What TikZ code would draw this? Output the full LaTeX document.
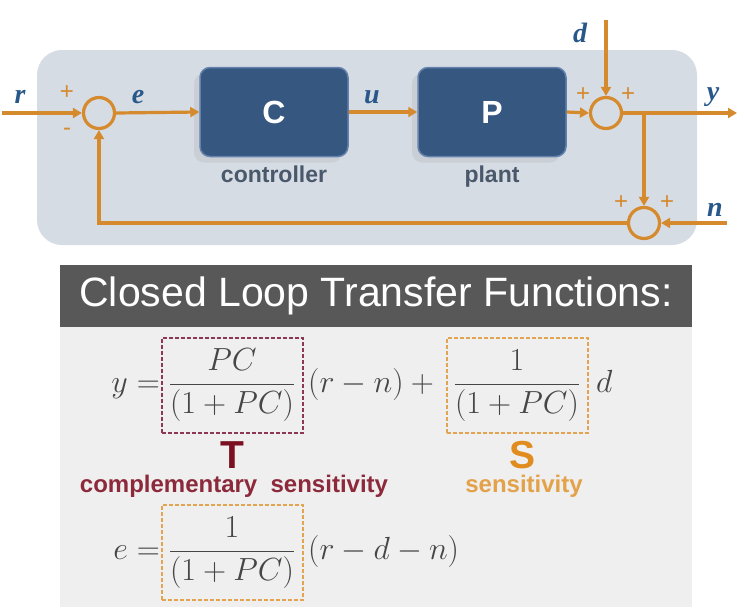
\documentclass[tikz,border=0pt]{standalone}
\usepackage{fix-cm}
\usepackage{amsmath}
\usepackage{fontspec}
\setmainfont{Liberation Sans}
\newfontfamily\lblfont{Liberation Serif}
\usepackage{tikz}
\usetikzlibrary{arrows.meta,calc,positioning,shadows}

\definecolor{panelbg}{RGB}{214,220,228}
\definecolor{blockblue}{RGB}{54,87,128}
\definecolor{blockedge}{RGB}{100,130,172}
\definecolor{sigblue}{RGB}{40,88,138}
\definecolor{wirecol}{RGB}{214,138,46}
\definecolor{captxt}{RGB}{74,88,108}
\definecolor{hdrgray}{RGB}{88,88,88}
\definecolor{lowbg}{RGB}{239,239,239}
\definecolor{mathgray}{RGB}{70,70,70}
\definecolor{tred}{RGB}{122,16,32}
\definecolor{tcap}{RGB}{140,42,60}
\definecolor{tboxcol}{RGB}{140,56,84}
\definecolor{sorange}{RGB}{224,140,30}
\definecolor{scap}{RGB}{227,162,74}
\definecolor{sboxcol}{RGB}{226,164,80}

\tikzset{
  wire/.style={line width=3.2pt,draw=wirecol},
  sumnode/.style={circle,draw=wirecol,line width=3.2pt,minimum size=31pt,inner sep=0pt},
  block/.style={rectangle,rounded corners=10pt,fill=blockblue,draw=blockedge,line width=1.5pt,
    minimum width=148pt,minimum height=89pt,text=white,font=\fontsize{32}{36}\selectfont\bfseries,
    drop shadow={shadow xshift=-6pt,shadow yshift=-6pt,opacity=0.14}},
  blockcap/.style={inner sep=0pt,text=captxt,font=\fontsize{23}{26}\selectfont\bfseries},
  sgn/.style={inner sep=0pt,text=wirecol,font=\fontsize{24}{24}\selectfont},
  sig/.style={inner sep=0pt,text=sigblue,font=\lblfont\fontsize{28}{30}\selectfont\bfseries\itshape},
  eq/.style={inner sep=0pt,text=mathgray,font=\fontsize{32}{38}\selectfont},
  fracbox/.style={eq,dash pattern=on 4pt off 2pt,line width=2pt,minimum width=141pt,minimum height=95pt}
}

\begin{document}
\begin{tikzpicture}[x=1pt,y=-1pt,>={Triangle[length=9pt,width=10pt]}]
    \useasboundingbox (0,0) rectangle (751,611);
    % panel behind the loop
    \fill[panelbg,rounded corners=25pt] (37,50) rectangle (697,245);
    % blocks
    \node[block] (C) at (274,112) {C};
    \node[blockcap,below=8pt of C] (Ccap) {controller};
    \node[block] (P) at (492,112) {P};
    \node[blockcap,below=8pt of P] (Pcap) {plant};
    % summing junctions and their signs
    \node[sumnode] (s1) at (99,113) {};
    \node[sumnode] (s2) at (606,113) {};
    \node[sumnode] (s3) at (644,223) {};
    \node[sgn] (s1p) at (67,93) {+};
    \node[sgn] (s1m) at (67,132) {-};
    \node[sgn] (s2a) at (583,95) {+};
    \node[sgn] (s2b) at (628,95) {+};
    \node[sgn] (s3a) at (621,203) {+};
    \node[sgn] (s3b) at (667,203) {+};
    % signals
    \node[sig] (r) at (20,97) {r};
    \node[sig] (e) at (138,97) {e};
    \node[sig] (u) at (372,97) {u};
    \node[sig] (d) at (580,33) {d};
    \node[sig] (y) at (713,97) {y};
    \node[sig] (n) at (715,210) {n};
    \coordinate (rin) at (2,113);
    \coordinate (din) at (606,20);
    \coordinate (yout) at (737,113);
    \coordinate (br) at (644,113);
    \coordinate (nin) at (727,223);
    % wires
    \draw[wire,->] (rin) -- (s1.west);
    \draw[wire,->] (s1.east) -- (C.west);
    \draw[wire,->] (C.east) -- (P.west);
    \draw[wire,->] (P.east) -- (s2.west);
    \draw[wire,->] (din) -- (s2.north);
    \draw[wire,->] (s2.east) -- (yout);
    \draw[wire,->] (br) -- (s3.north);
    \draw[wire,->] (nin) -- (s3.east);
    \draw[wire,->] (s3.west) -| (s1.south);
    % closed loop transfer functions
    \node[fill=hdrgray,text=white,inner sep=0pt,minimum width=632pt,minimum height=62pt,
      font=\fontsize{41}{45}\selectfont] (title) at (376,296) {Closed Loop Transfer Functions:};
    \fill[lowbg] (60,327) rectangle (692,607);
    \node[eq,anchor=base east] (ylhs) at (160,392) {$y=$};
    \node[fracbox,draw=tboxcol,anchor=base] (T) at (232,392) {$\dfrac{PC}{(1+PC)}$};
    \node[eq,anchor=base west] (rn) at (308,392) {$(r-n)+{}$};
    \node[fracbox,draw=sboxcol,anchor=base] (S) at (517,392) {$\dfrac{1}{(1+PC)}$};
    \node[eq,anchor=base west] (dd) at (596,392) {$d$};
    \node[inner sep=0pt,text=tred,font=\fontsize{39}{40}\selectfont\bfseries,anchor=base] (Tl) at (232,468) {T};
    \node[inner sep=0pt,text=tcap,font=\fontsize{24}{26}\selectfont\bfseries,anchor=base] (Tcap) at (234,492) {complementary~ sensitivity};
    \node[inner sep=0pt,text=sorange,font=\fontsize{39}{40}\selectfont\bfseries,anchor=base] (Sl) at (522,468) {S};
    \node[inner sep=0pt,text=scap,font=\fontsize{24}{26}\selectfont\bfseries,anchor=base] (Scap) at (524,492) {sensitivity};
    \node[eq,anchor=base east] (elhs) at (160,559) {$e=$};
    \node[fracbox,draw=sboxcol,anchor=base] (E) at (232,559) {$\dfrac{1}{(1+PC)}$};
    \node[eq,anchor=base west] (rdn) at (308,559) {$(r-d-n)$};
\end{tikzpicture}
\end{document}
